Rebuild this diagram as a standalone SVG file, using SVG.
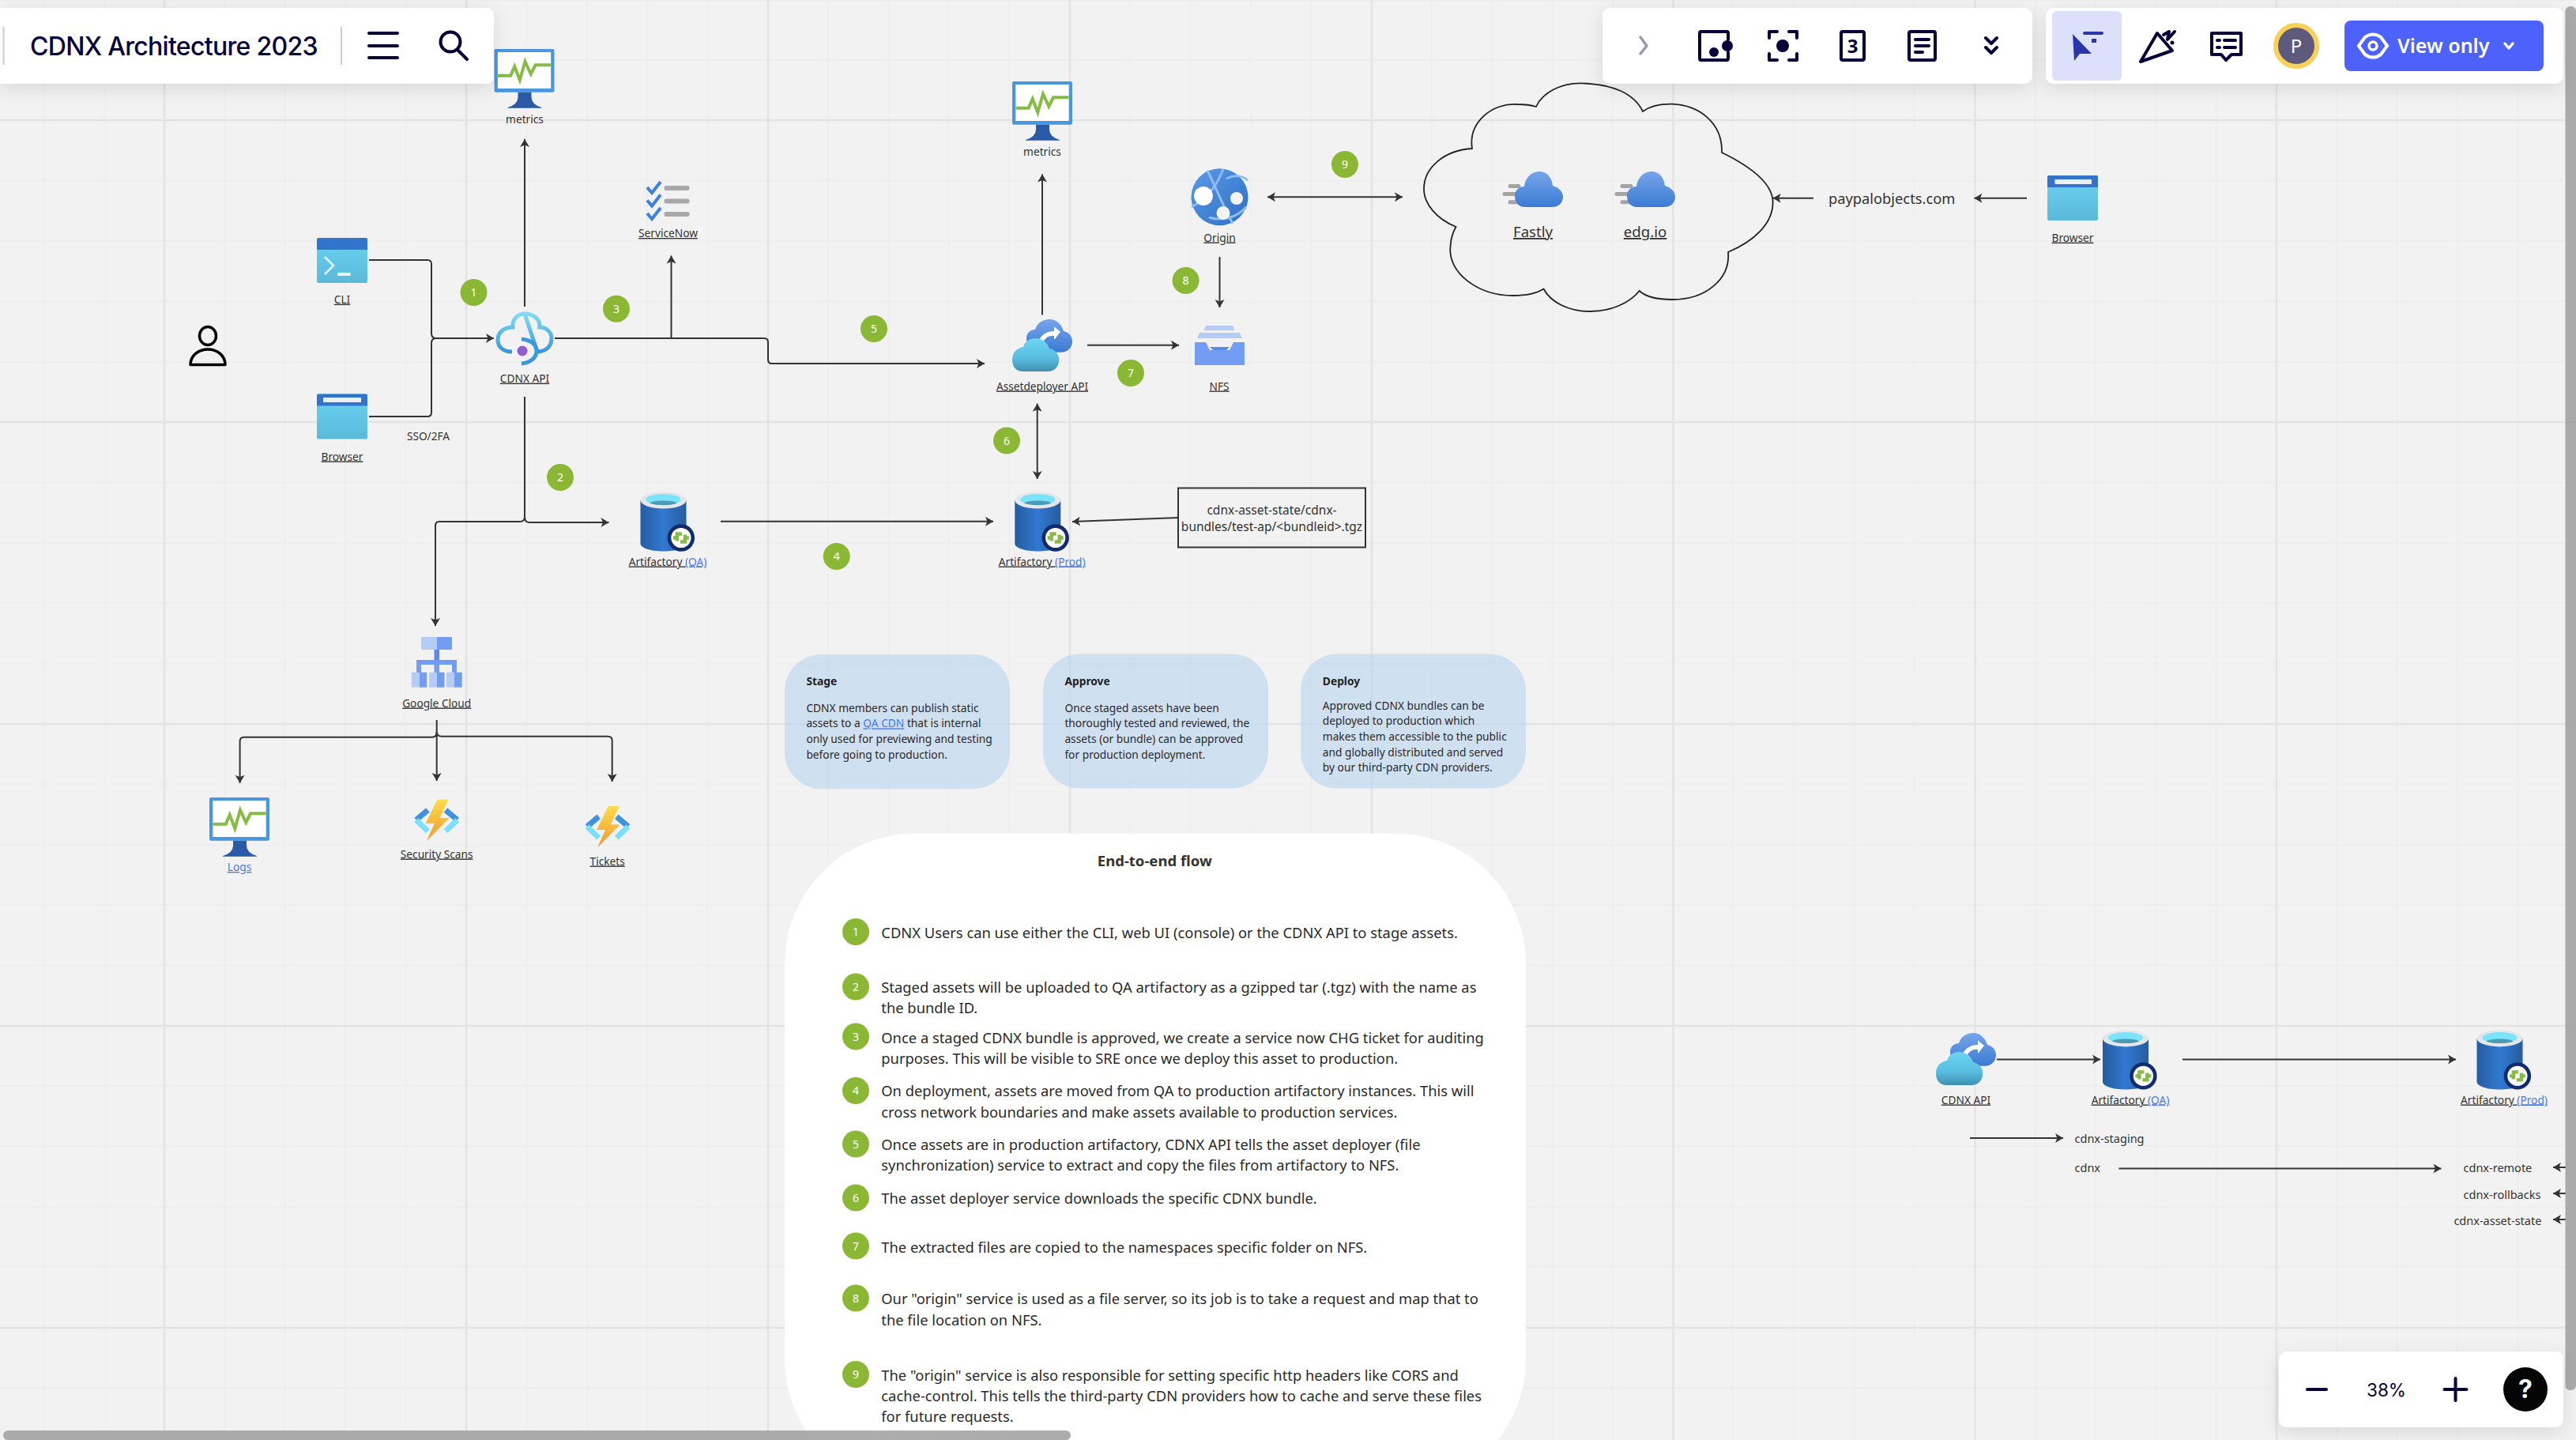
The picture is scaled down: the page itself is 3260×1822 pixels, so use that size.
<svg xmlns="http://www.w3.org/2000/svg" width="3260" height="1822" viewBox="0 0 3260 1822">
<style>
text{font-family:"Noto Sans","Open Sans",sans-serif;fill:#333}
.lb{font-size:13.7px;text-anchor:middle}
.u{text-decoration:underline}
.ln{fill:#4a78f0;text-decoration:underline}
.c{fill:none;stroke:#333;stroke-width:2}
.e{marker-end:url(#ah)}
.s{marker-start:url(#ah)}
.bd{fill:#8bb834}
.bt{fill:#fff;font-size:14px;text-anchor:middle}
.card{fill:#bcd6ef;fill-opacity:.65}
.ct{font-size:13.75px;fill:#2a2a2a}
.ch{font-size:13.8px;font-weight:700;fill:#222}
.ft{font-size:18.35px;fill:#2a2a2a}
.ui{fill:none;stroke:#050038;stroke-width:4;stroke-linecap:round;stroke-linejoin:round}
.uf{fill:#050038}
.panel{fill:#fff;filter:url(#sh)}
</style>
<defs>
<filter id="sh" x="-20%" y="-40%" width="140%" height="190%"><feDropShadow dx="0" dy="6" stdDeviation="11" flood-color="#000" flood-opacity=".11"/></filter>
<marker id="ah" viewBox="-11 -7 12 14" refX="0" refY="0" markerWidth="12" markerHeight="14" markerUnits="userSpaceOnUse" orient="auto-start-reverse"><path d="M0,0 L-10,-6 L-7.5,0 L-10,6 Z" fill="#333"/></marker>
<linearGradient id="gBody" x1="0" y1="0" x2="0" y2="1"><stop offset="0" stop-color="#6bd3f3"/><stop offset="1" stop-color="#5ab9d9"/></linearGradient>
<linearGradient id="gFront" x1="0" y1="0" x2="0" y2="1"><stop offset="0" stop-color="#6dd5f3"/><stop offset=".6" stop-color="#58bde0"/><stop offset="1" stop-color="#4090b0"/></linearGradient>
<linearGradient id="gBack" x1="0" y1="0" x2="0" y2="1"><stop offset="0" stop-color="#77a5ea"/><stop offset="1" stop-color="#3b7bd3"/></linearGradient>
<linearGradient id="gDb" x1="0" y1="0" x2="1" y2="0"><stop offset="0" stop-color="#265c9f"/><stop offset=".5" stop-color="#3279d1"/><stop offset="1" stop-color="#265c9f"/></linearGradient>
<linearGradient id="gBolt" x1="0" y1="0" x2="0" y2="1"><stop offset="0" stop-color="#fcdc4a"/><stop offset="1" stop-color="#ef9a32"/></linearGradient>
<linearGradient id="gGlobe" x1="0" y1="0" x2="1" y2="1"><stop offset="0" stop-color="#5a9ae6"/><stop offset="1" stop-color="#2f6fc6"/></linearGradient>
<linearGradient id="gApi" x1="0" y1="0" x2="0" y2="1"><stop offset="0" stop-color="#7fdcf8"/><stop offset="1" stop-color="#3f96d6"/></linearGradient>
<g id="monitor">
<rect x="0" y="0" width="76" height="54.7" rx="2" fill="#4a97df"/>
<rect x="4.3" y="4" width="67.4" height="46" fill="#fff"/>
<path d="M4.5,33.7H20.7L25.7,22L32.3,39.3L39,16L46.3,31.7L52,20.3H71.5" fill="none" stroke="#86bb45" stroke-width="4"/>
<path d="M30,54.7H47V61Q47,70 60,74V74.7H17V74Q30,70 30,61Z" fill="#2a5aa6"/>
</g>
<g id="win">
<rect width="64" height="57" rx="2" fill="url(#gBody)"/>
<path d="M0,15V2Q0,0 2,0H62Q64,0 64,2V15Z" fill="#3274cc"/>
</g>
<g id="db">
<path d="M0,10.5V65C0,71 13,75 29,75S58,71 58,65V10.5Z" fill="url(#gDb)"/>
<ellipse cx="29" cy="10.5" rx="29" ry="10.5" fill="#e4e6e8"/>
<ellipse cx="29" cy="9.5" rx="22" ry="7" fill="#7be3fb"/>
<path d="M12,14C15,10 43,10 46,14C40,17.5 18,17.5 12,14Z" fill="#4d9ab6"/>
<circle cx="51.4" cy="58" r="17.2" fill="#102c6a"/>
<circle cx="51.4" cy="58" r="12.6" fill="#fff"/>
<path d="M41.4,58H46.4M46.4,62V53H52.4M61.4,58H56.4M56.4,54V63H50.4" fill="none" stroke="#86bb45" stroke-width="4.4"/>
</g>
<g id="deploy">
<path d="M18,24C18,18 22,13 29,13C31,5 39,0 47,0C56,0 62,6 65,15C71,16 76,21 76,28C76,36 70,41.7 62,41.7H30C23,41.7 18,32 18,24Z" fill="url(#gBack)"/>
<path d="M34,26C38,18 46,15 53,15V9.3L61,16L53,26V21C46,20 41,24 39,30Z" fill="#fff"/>
<path d="M14,66C5,66 0,60 0,51.5C0,42 6,36 14,35C16,28 22,24 29,24C38,24 45,30 47,37C54,38 59.3,44 59.3,51.5C59.3,60 53,66 45,66Z" fill="url(#gFront)"/>
</g>
<g id="fast">
<path d="M9,18.5H20M2,28.6H20M9,38.7H20" stroke="#a3a3a3" stroke-width="5" stroke-linecap="round"/>
<path d="M28,45C20,45 15,39 15,31C15,24 20,19 27,19C28,8 36,0 46,0C56,0 62,8 63,18C70,20 76,25 76,32C76,40 70,45 62,45Z" fill="url(#gBack)"/>
</g>
<g id="func">
<path d="M17.7,13.3L3,25.7" stroke="#3f92de" stroke-width="7" fill="none"/>
<path d="M3,25.7L17.7,40" stroke="#7be0fb" stroke-width="7" fill="none"/>
<path d="M40.3,13.3L55,25.7" stroke="#3f92de" stroke-width="7" fill="none"/>
<path d="M55,25.7L40.3,40" stroke="#7be0fb" stroke-width="7" fill="none"/>
<path d="M29.7,0H43.7L33,23.3H44.7L16.3,52.3L26,30H15Z" fill="url(#gBolt)"/>
</g>
</defs>

<rect id="background" width="3260" height="1822" fill="#f2f2f2"/>
<g id="grid" fill="none">
<path stroke="#eeeeee" stroke-width="2" d="M55.3,0V1822M131.7,0V1822M284.4,0V1822M360.7,0V1822M437.1,0V1822M513.5,0V1822M666.2,0V1822M742.6,0V1822M819,0V1822M895.3,0V1822M1048.1,0V1822M1124.5,0V1822M1200.8,0V1822M1277.2,0V1822M1430,0V1822M1506.3,0V1822M1582.7,0V1822M1659,0V1822M1812,0V1822M1888.2,0V1822M1964.5,0V1822M2040.9,0V1822M2193.6,0V1822M2270,0V1822M2346.4,0V1822M2422.7,0V1822M2575.5,0V1822M2651.9,0V1822M2728.2,0V1822M2804.6,0V1822M2957.4,0V1822M3033.7,0V1822M3110.1,0V1822M3186.5,0V1822M0,0.5H3260M0,76H3260M0,228.5H3260M0,305H3260M0,381H3260M0,458H3260M0,610.5H3260M0,687H3260M0,763H3260M0,840H3260M0,992H3260M0,1069H3260M0,1145H3260M0,1221H3260M0,1374H3260M0,1450H3260M0,1527H3260M0,1603H3260M0,1756H3260"/>
<path stroke="#e3e3e3" stroke-width="2.5" d="M208,0V1822M590,0V1822M972,0V1822M1354,0V1822M1736,0V1822M2117.5,0V1822M2499.5,0V1822M2881,0V1822M0,152H3260M0,534H3260M0,916H3260M0,1298H3260M0,1680H3260"/>
</g>

<g id="connectors">
<path class="c e" d="M467,329H541Q546,329 546,334V422Q546,428 552,428H625"/>
<path class="c" d="M467,527H541Q546,527 546,522V434Q546,428 552,428"/>
<path class="c e" d="M664,388V176"/>
<path class="c e" d="M702,428H967Q972,428 972,433V455Q972,460 977,460H1246"/>
<path class="c e" d="M849.5,428V323.5"/>
<path class="c e" d="M664,502V654Q664,660 658,660H556Q551,660 551,665V792"/>
<path class="c e" d="M664,654Q664,661 670,661H770.5"/>
<path class="c e" d="M912,659.7H1257"/>
<path class="c e" d="M1319,398.5V220.5"/>
<path class="c e" d="M1543.5,325V389"/>
<path class="c e" d="M1376,436.7H1492"/>
<path class="c e s" d="M1604,249.3H1775"/>
<path class="c e s" d="M1312.7,510.7V606"/>
<path class="c e" d="M1491,655L1357,660"/>
<path class="c e" d="M2295,250.7H2243.6"/>
<path class="c e" d="M2565,250.7H2498.4"/>
<path class="c e" d="M552.7,911V988"/>
<path class="c e" d="M552.7,926Q552.7,932.7 547,932.7H309Q303.6,932.7 303.6,938V990.7"/>
<path class="c e" d="M552.7,926Q552.7,931.7 559,931.7H769Q774.7,931.7 774.7,937V989"/>
<path class="c e" d="M2527,1340.4H2658"/>
<path class="c e" d="M2762,1340.4H3108"/>
<path class="c e" d="M2493,1440H2611"/>
<path class="c e" d="M2681.4,1478.4H3089.5"/>
<path class="c e" d="M3247,1477H3231"/>
<path class="c e" d="M3247,1510H3231"/>
<path class="c e" d="M3247,1543H3231"/>
</g>

<g id="node-person" fill="none" stroke="#000" stroke-width="3.5">
<ellipse cx="263" cy="425" rx="10.5" ry="11.5"/>
<path d="M241,461.5C241,450 251,442 263,442S285,450 285,461.5Z" stroke-linejoin="round"/>
</g>
<g id="node-cli">
<use href="#win" x="401" y="301"/>
<path d="M411,325L422,336L411,347" fill="none" stroke="#e4f6fc" stroke-width="2.6"/>
<rect x="427" y="345" width="17" height="4" rx="1" fill="#e4f6fc"/>
<text class="lb u" x="433" y="383.7">CLI</text>
</g>
<g id="node-browser">
<use href="#win" x="401" y="498.6"/>
<rect x="409" y="503" width="48" height="6" fill="#e8f0fb"/>
<text class="lb u" x="433" y="582.5">Browser</text>
</g>
<text id="label-sso" class="lb" x="542" y="556.5">SSO/2FA</text>
<g id="node-metrics-1">
<use href="#monitor" x="625.5" y="62"/>
<text class="lb" x="664" y="155.5">metrics</text>
</g>
<g id="node-cdnx-api">
<path d="M664,397C654,397 648,405 649,414C637,414 630,421 630,430C630,440 638,445 648,445M680,445C691,445 698,438 698,428C698,420 691,414 683,414C684,404 675,397 664,397Z" fill="none" stroke="url(#gApi)" stroke-width="5"/>
<path d="M660,429C672,430 679,436 679,444C679,452 672,459 660,460" fill="none" stroke="#3a9ad9" stroke-width="5"/>
<circle cx="661" cy="444" r="6.5" fill="#8f5fcf"/>
<text class="lb u" x="664" y="483.7">CDNX API</text>
</g>
<g id="node-servicenow">
<g fill="none" stroke="#3f7fe0" stroke-width="4">
<path d="M819,237L825,244L836,230M819,253.5L825,260.5L836,246.5M819,270L825,277L836,263"/>
</g>
<g fill="#a8a8a8"><rect x="840.5" y="235" width="32" height="6" rx="2.5"/><rect x="840.5" y="251.5" width="32" height="6" rx="2.5"/><rect x="840.5" y="268" width="32" height="6" rx="2.5"/></g>
<text class="lb u" x="845.5" y="300">ServiceNow</text>
</g>
<g id="node-artifactory-qa">
<use href="#db" x="810.5" y="622.5"/>
<text class="lb u" x="845" y="715.5">Artifactory <tspan class="ln">(QA)</tspan></text>
</g>
<g id="node-metrics-2">
<use href="#monitor" x="1281" y="103"/>
<text class="lb" x="1319" y="196.5">metrics</text>
</g>
<g id="node-assetdeployer">
<use href="#deploy" x="1281" y="404"/>
<text class="lb u" x="1319" y="493.5">Assetdeployer API</text>
</g>
<g id="node-artifactory-prod">
<use href="#db" x="1284.3" y="622.5"/>
<text class="lb u" x="1318.7" y="715.5">Artifactory <tspan class="ln">(Prod)</tspan></text>
</g>
<g id="node-origin">
<circle cx="1543.5" cy="249.3" r="36" fill="url(#gGlobe)"/>
<path d="M1508,262C1525,252 1538,240 1548,214M1528,216C1538,235 1545,255 1560,283M1552,226C1562,221 1572,222 1579,228M1530,275C1545,280 1565,276 1577,262" fill="none" stroke="#8fbdf0" stroke-width="3"/>
<circle cx="1523" cy="248" r="12" fill="#fff"/><circle cx="1565" cy="251" r="8" fill="#f4f4f4"/><circle cx="1548" cy="269.5" r="8.5" fill="#f4f4f4"/>
<text class="lb u" x="1543.5" y="305.5">Origin</text>
</g>
<g id="node-nfs">
<path d="M1526,412H1560L1562.5,418H1523.5Z" fill="#b5cdf6"/>
<path d="M1518,421H1569L1572,428H1515Z" fill="#b5cdf6"/>
<path d="M1512,433H1526L1531,443H1556L1561,433H1575V462H1512Z" fill="#739df2"/>
<path d="M1531,439H1556L1552,443H1535Z" fill="#5a8bea"/>
<text class="lb u" x="1543" y="493.5">NFS</text>
</g>
<g id="node-box">
<rect x="1491" y="617.5" width="237" height="75" fill="none" stroke="#333" stroke-width="2"/>
<text x="1609.5" y="650.5" text-anchor="middle" font-size="15.5">cdnx-asset-state/cdnx-</text>
<text x="1609.5" y="672" text-anchor="middle" font-size="15.5">bundles/test-ap/&lt;bundleid&gt;.tgz</text>
</g>
<g id="node-cdn-cloud">
<path fill="none" stroke="#222" stroke-width="1.8" d="M1944,135C1952,117 1976,105 2000,105.3C2040,106 2068,118 2079,141C2090,133 2102,131.5 2116,131.7C2150,133 2180,155 2179,193C2218,212 2243.6,233 2243.6,256C2243.6,283 2220,305 2187,319C2190,352 2160,379 2116.6,379C2096,379 2082,375 2074.7,368C2062,384 2038,394 2012,394C1985,394 1962,382 1953.5,365.5C1945,371 1930,374 1915,374C1870,374 1832,345 1835.5,312C1836,302 1838,295 1842.5,287C1818,277 1802,258 1802,239C1802,212 1828,190 1863,188C1858,155 1888,130 1920,132C1930,132 1938,133 1944,135Z"/>
</g>
<g id="node-fastly">
<use href="#fast" x="1902" y="217"/>
<text x="1940" y="300" text-anchor="middle" font-size="18.6" class="u">Fastly</text>
</g>
<g id="node-edgio">
<use href="#fast" x="2044" y="217"/>
<text x="2082" y="300" text-anchor="middle" font-size="18.6" class="u">edg.io</text>
</g>
<text id="label-paypal" x="2314" y="258" font-size="18.3">paypalobjects.com</text>
<g id="node-browser-2">
<use href="#win" x="2591" y="222"/>
<rect x="2600.5" y="227" width="46.5" height="6" fill="#e8f0fb"/>
<text class="lb u" x="2623" y="305.7">Browser</text>
</g>
<g id="node-google-cloud">
<rect x="533" y="806" width="20" height="16" fill="#b5cdf6"/><rect x="553" y="806" width="19" height="16" fill="#739df2"/>
<rect x="549.5" y="822" width="6.5" height="14" fill="#5a8bea"/>
<path d="M527,851V835H578V851H572V841H556V851H549.5V841H533V851Z" fill="#739df2"/>
<rect x="520.7" y="850.7" width="10" height="19" fill="#b5cdf6"/><rect x="530.7" y="850.7" width="9.5" height="19" fill="#739df2"/>
<rect x="543" y="850.7" width="10" height="19" fill="#b5cdf6"/><rect x="553" y="850.7" width="9.5" height="19" fill="#739df2"/>
<rect x="565" y="850.7" width="10" height="19" fill="#b5cdf6"/><rect x="575" y="850.7" width="9.7" height="19" fill="#739df2"/>
<text class="lb u" x="552.7" y="894.5">Google Cloud</text>
</g>
<g id="node-logs">
<use href="#monitor" x="265" y="1009"/>
<text class="lb ln" x="303" y="1102">Logs</text>
</g>
<g id="node-security-scans">
<use href="#func" x="523.7" y="1011.7"/>
<text class="lb u" x="552.7" y="1085.5">Security Scans</text>
</g>
<g id="node-tickets">
<use href="#func" x="740" y="1020"/>
<text class="lb u" x="768.7" y="1094.5">Tickets</text>
</g>

<g id="badges">
<circle class="bd" cx="599.5" cy="370" r="17"/><text class="bt" x="599.5" y="375">1</text>
<circle class="bd" cx="709" cy="604" r="17"/><text class="bt" x="709" y="609">2</text>
<circle class="bd" cx="780" cy="390.7" r="17"/><text class="bt" x="780" y="395.7">3</text>
<circle class="bd" cx="1058.7" cy="704" r="17"/><text class="bt" x="1058.7" y="709">4</text>
<circle class="bd" cx="1106" cy="416" r="17"/><text class="bt" x="1106" y="421">5</text>
<circle class="bd" cx="1274" cy="557.5" r="17"/><text class="bt" x="1274" y="562.5">6</text>
<circle class="bd" cx="1431" cy="472" r="17"/><text class="bt" x="1431" y="477">7</text>
<circle class="bd" cx="1500.6" cy="355" r="17"/><text class="bt" x="1500.6" y="360">8</text>
<circle class="bd" cx="1702" cy="208" r="17"/><text class="bt" x="1702" y="213">9</text>
</g>

<g id="card-stage">
<rect class="card" x="993" y="828" width="285" height="170" rx="46"/>
<text class="ch" x="1020.4" y="866.7">Stage</text>
<text class="ct" x="1020.4" y="900.7">CDNX members can publish static</text>
<text class="ct" x="1020.4" y="920.4">assets to a <tspan class="ln">QA CDN</tspan> that is internal</text>
<text class="ct" x="1020.4" y="940">only used for previewing and testing</text>
<text class="ct" x="1020.4" y="959.7">before going to production.</text>
</g>
<g id="card-approve">
<rect class="card" x="1320" y="827.5" width="285" height="170" rx="46"/>
<text class="ch" x="1347.4" y="866.7">Approve</text>
<text class="ct" x="1347.4" y="900.7">Once staged assets have been</text>
<text class="ct" x="1347.4" y="920.4">thoroughly tested and reviewed, the</text>
<text class="ct" x="1347.4" y="940">assets (or bundle) can be approved</text>
<text class="ct" x="1347.4" y="959.7">for production deployment.</text>
</g>
<g id="card-deploy">
<rect class="card" x="1646" y="827.5" width="285" height="170" rx="46"/>
<text class="ch" x="1673.8" y="866.7">Deploy</text>
<text class="ct" x="1673.8" y="897.7">Approved CDNX bundles can be</text>
<text class="ct" x="1673.8" y="917">deployed to production which</text>
<text class="ct" x="1673.8" y="936.7">makes them accessible to the public</text>
<text class="ct" x="1673.8" y="956.5">and globally distributed and served</text>
<text class="ct" x="1673.8" y="975.7">by our third-party CDN providers.</text>
</g>

<g id="card-flow">
<rect x="993" y="1054.5" width="938" height="830" rx="165" fill="#fff"/>
<text x="1461.3" y="1096" text-anchor="middle" font-size="18.5" font-weight="700" fill="#222">End-to-end flow</text>
<g>
<circle class="bd" cx="1083" cy="1179" r="17"/><text class="bt" x="1083" y="1184">1</text>
<circle class="bd" cx="1083" cy="1248.5" r="17"/><text class="bt" x="1083" y="1253.5">2</text>
<circle class="bd" cx="1083" cy="1311.5" r="17"/><text class="bt" x="1083" y="1316.5">3</text>
<circle class="bd" cx="1083" cy="1380" r="17"/><text class="bt" x="1083" y="1385">4</text>
<circle class="bd" cx="1083" cy="1447.5" r="17"/><text class="bt" x="1083" y="1452.5">5</text>
<circle class="bd" cx="1083" cy="1515.5" r="17"/><text class="bt" x="1083" y="1520.5">6</text>
<circle class="bd" cx="1083" cy="1576.5" r="17"/><text class="bt" x="1083" y="1581.5">7</text>
<circle class="bd" cx="1083" cy="1642.5" r="17"/><text class="bt" x="1083" y="1647.5">8</text>
<circle class="bd" cx="1083" cy="1739" r="17"/><text class="bt" x="1083" y="1744">9</text>
</g>
<text class="ft" x="1115.3" y="1186.5">CDNX Users can use either the CLI, web UI (console) or the CDNX API to stage assets.</text>
<text class="ft" x="1115.3" y="1255.5">Staged assets will be uploaded to QA artifactory as a gzipped tar (.tgz) with the name as</text>
<text class="ft" x="1115.3" y="1281.5">the bundle ID.</text>
<text class="ft" x="1115.3" y="1319.5">Once a staged CDNX bundle is approved, we create a service now CHG ticket for auditing</text>
<text class="ft" x="1115.3" y="1345.5">purposes. This will be visible to SRE once we deploy this asset to production.</text>
<text class="ft" x="1115.3" y="1387">On deployment, assets are moved from QA to production artifactory instances. This will</text>
<text class="ft" x="1115.3" y="1414">cross network boundaries and make assets available to production services.</text>
<text class="ft" x="1115.3" y="1455">Once assets are in production artifactory, CDNX API tells the asset deployer (file</text>
<text class="ft" x="1115.3" y="1481">synchronization) service to extract and copy the files from artifactory to NFS.</text>
<text class="ft" x="1115.3" y="1523">The asset deployer service downloads the specific CDNX bundle.</text>
<text class="ft" x="1115.3" y="1584.5">The extracted files are copied to the namespaces specific folder on NFS.</text>
<text class="ft" x="1115.3" y="1649.5">Our "origin" service is used as a file server, so its job is to take a request and map that to</text>
<text class="ft" x="1115.3" y="1676.5">the file location on NFS.</text>
<text class="ft" x="1115.3" y="1747">The "origin" service is also responsible for setting specific http headers like CORS and</text>
<text class="ft" x="1115.3" y="1773">cache-control. This tells the third-party CDN providers how to cache and serve these files</text>
<text class="ft" x="1115.3" y="1799">for future requests.</text>
</g>

<g id="node-lower-api">
<use href="#deploy" x="2450" y="1307"/>
<text class="lb u" x="2488" y="1396.5">CDNX API</text>
</g>
<g id="node-lower-qa">
<use href="#db" x="2661" y="1303.4"/>
<text class="lb u" x="2696" y="1396.5">Artifactory <tspan class="ln">(QA)</tspan></text>
</g>
<g id="node-lower-prod">
<use href="#db" x="3134.5" y="1303.4"/>
<text class="lb u" x="3169" y="1396.5">Artifactory <tspan class="ln">(Prod)</tspan></text>
</g>
<g id="repo-labels" font-size="14.5">
<text x="2625.5" y="1446">cdnx-staging</text>
<text x="2625.5" y="1483">cdnx</text>
<text x="3117.5" y="1483">cdnx-remote</text>
<text x="3117.5" y="1516.5">cdnx-rollbacks</text>
<text x="3105.4" y="1549.5">cdnx-asset-state</text>
</g>

<g id="scrollbars" fill="#9e9e9e" fill-opacity=".85">
<rect x="4" y="1810" width="1351" height="12" rx="6"/>
<rect x="3246.5" y="8" width="13.5" height="1751" rx="6"/>
</g>

<g id="ui-title">
<path class="panel" d="M0,10H615Q625,10 625,20V96Q625,106 615,106H0Z"/>
<path d="M4.5,34V82M432,34V82" stroke="#ccccd8" stroke-width="2"/>
<text x="38" y="70" font-size="32" font-weight="500" letter-spacing="-0.7" style="font-family:Inter,'Noto Sans',sans-serif;fill:#050038">CDNX Architecture 2023</text>
<path d="M467,42H503M467,58H503M467,73H503" class="ui" stroke-width="4.5"/>
<circle cx="570" cy="53" r="12.5" class="ui"/><path d="M579,63L591,75" class="ui"/>
</g>
<g id="ui-tools">
<rect class="panel" x="2028" y="10" width="544" height="96" rx="10"/>
<path d="M2076,47L2084,58L2076,68" fill="none" stroke="#9b99b3" stroke-width="3.5" stroke-linecap="round" stroke-linejoin="round"/>
<path d="M2187,50V42Q2187,40 2185,40H2153Q2151,40 2151,42V74Q2151,76 2153,76H2185Q2187,76 2187,74V66" class="ui"/><circle cx="2186" cy="58" r="7" class="uf"/><circle cx="2169" cy="66" r="6" class="uf"/>
<path d="M2239,48V40H2249M2264,40H2274V48M2274,68V76H2264M2249,76H2239V68" class="ui"/><circle cx="2256" cy="58" r="8" class="uf"/>
<rect x="2330" y="40" width="29" height="36" rx="2" class="ui"/><text x="2344.5" y="67" text-anchor="middle" font-size="24" font-weight="700" style="fill:#050038">3</text>
<rect x="2416" y="40" width="33" height="36" rx="2" class="ui"/><path d="M2424,50H2441M2424,58H2441M2424,66H2433" class="ui"/>
<path d="M2513,48L2520,55L2527,48M2513,60L2520,67L2527,60" class="ui"/>
</g>
<g id="ui-actions">
<rect class="panel" x="2589" y="10" width="655" height="96" rx="10"/>
<rect x="2597" y="14" width="88" height="88" rx="6" fill="#dce0fb"/>
<path d="M2623,43L2647,68H2632L2625,77Z" fill="#2a35a8"/><path d="M2638,42H2660" stroke="#2a35a8" stroke-width="4" stroke-linecap="round"/><rect x="2647" y="49" width="6" height="5" fill="#2a35a8"/>
<path d="M2709,78L2730,42L2749,64Z" class="ui"/><path d="M2738,44L2745,40L2743,50L2752,40" class="ui" stroke-width="3"/><circle cx="2749" cy="54" r="2.5" class="uf"/>
<path d="M2799,42H2836V69H2824L2817,76L2811,69H2799Z" class="ui"/><path d="M2806,51H2809M2815,51H2829M2806,60H2809M2815,60H2829" class="ui"/>
<circle cx="2906" cy="58" r="26" fill="#5d5a7c" stroke="#f8d158" stroke-width="6"/>
<text x="2906" y="67" text-anchor="middle" font-size="24" style="fill:#fff">P</text>
<rect x="2967" y="26" width="252" height="64" rx="8" fill="#4d62fa"/>
<path d="M2985,58L2993,47Q3003,40 3013,47L3021,58L3013,69Q3003,76 2993,69Z" fill="none" stroke="#fff" stroke-width="4"/><circle cx="3003" cy="58" r="5" fill="none" stroke="#fff" stroke-width="3.5"/>
<text x="3034" y="67" font-size="25" font-weight="600" style="fill:#fff">View only</text>
<path d="M3170,55L3175,61L3180,55" fill="none" stroke="#fff" stroke-width="3.5" stroke-linecap="round" stroke-linejoin="round"/>
</g>
<g id="ui-zoom">
<rect class="panel" x="2884" y="1710" width="360" height="96" rx="10"/>
<path d="M2920,1758H2944M3093.5,1758H3121.5M3107.5,1744V1772" class="ui"/>
<text x="3020" y="1767" text-anchor="middle" font-size="22.5" style="font-family:Inter,'Noto Sans',sans-serif;fill:#050038">38%</text>
<circle cx="3196" cy="1758" r="28" fill="#050505"/>
<text x="3196" y="1769" text-anchor="middle" font-size="32" font-weight="700" style="font-family:Inter,'Noto Sans',sans-serif;fill:#fff">?</text>
</g>
</svg>
